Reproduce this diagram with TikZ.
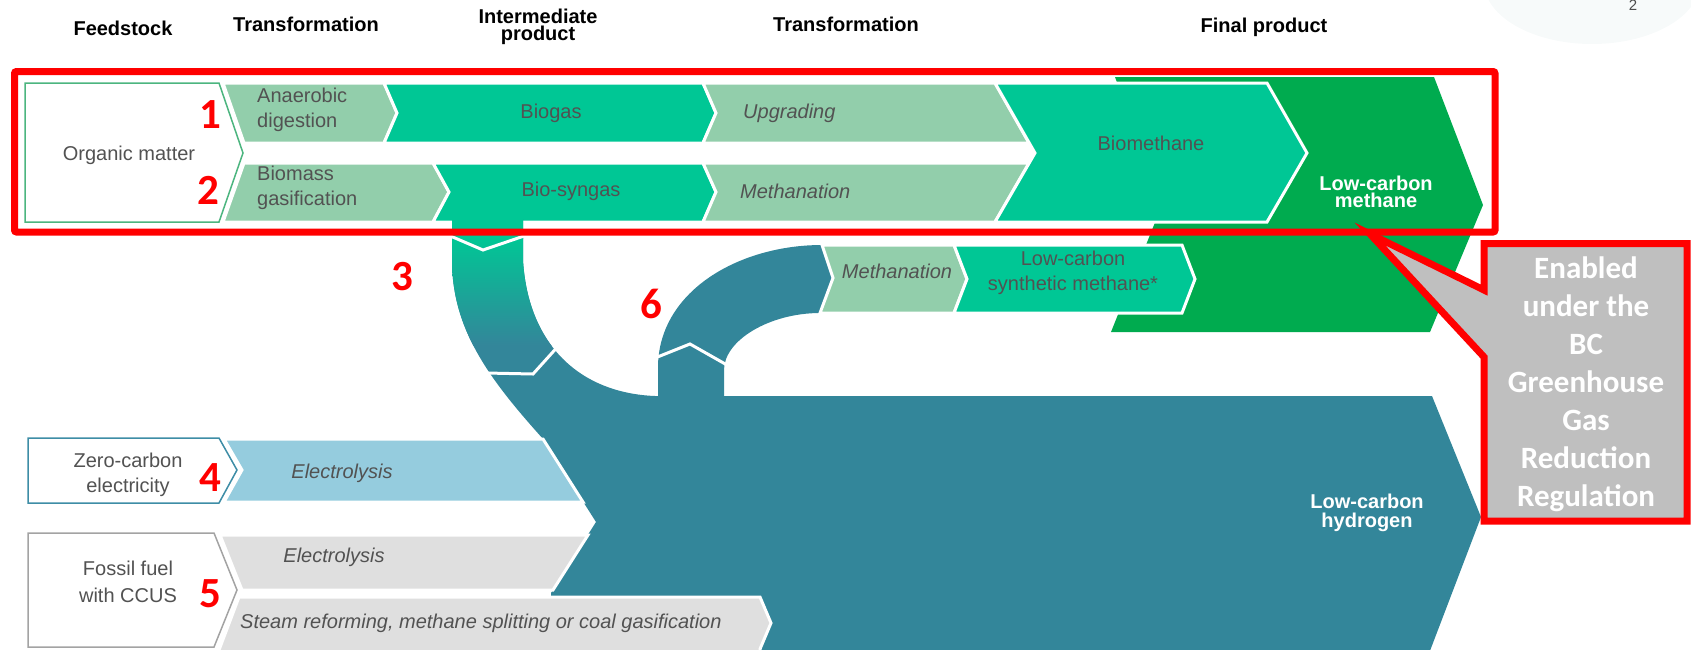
\documentclass[tikz,border=0pt]{standalone}
\usepackage{fontspec}
\setmainfont{Liberation Sans}
\newfontfamily\calib{Carlito}

\definecolor{paleGreen}{HTML}{92CEAB}
\definecolor{midGreen}{HTML}{00C795}
\definecolor{darkGreen}{HTML}{00AB4F}
\definecolor{tealBlue}{HTML}{33869A}
\definecolor{skyBlue}{HTML}{95CCDE}
\definecolor{lightGrey}{HTML}{DFDFDF}
\definecolor{calloutGrey}{HTML}{BFBFBF}
\definecolor{labelGrey}{HTML}{525252}
\definecolor{redMark}{HTML}{FF0000}
\definecolor{organicLine}{HTML}{4CB57F}
\definecolor{zeroLine}{HTML}{3E8DA6}
\definecolor{fossilLine}{HTML}{A3A3A3}
\definecolor{haze}{HTML}{F7FAFA}

% outline of the hydrogen body with its two curved branches
\def\hydrogenoutline{(452,219) -- (452,260) .. controls (452,330) and (490,380) .. (544,440)
  -- (596,522) -- (551,593) -- (551,656) -- (1428,656) -- (1481,517) -- (1432,396)
  -- (724,396) -- (724,370) .. controls (724,340) and (770,313) .. (820,313)
  -- (833,278) -- (822,245) .. controls (740,245) and (660,290) .. (658,365)
  -- (658,396) -- (655,396) .. controls (580,393) and (528,345) .. (523,260)
  -- (523,219) -- cycle}

\tikzset{
  flowbar/.style={draw=white, line width=3pt, line join=miter},
  feedbox/.style={fill=white, line width=1.5pt, line join=miter},
  lbl/.style={font=\fontsize{20}{25}\selectfont, text=labelGrey, align=center, inner sep=0pt},
  lblleft/.style={font=\fontsize{20}{25}\selectfont, text=labelGrey, align=left, inner sep=0pt},
  lblit/.style={font=\fontsize{20}{25}\selectfont\itshape, text=labelGrey, align=left, inner sep=0pt},
  head/.style={font=\fontsize{20}{15}\selectfont\bfseries, text=black, align=center, inner sep=0pt},
  prodlbl/.style={text=white, align=center, inner sep=0pt},
  num/.style={font=\calib\bfseries\fontsize{43}{43}\selectfont, text=redMark, inner sep=0pt},
  chevline/.style={draw=white, line width=3pt, line join=miter}
}

\begin{document}
\begin{tikzpicture}[x=1pt, y=-1pt]
\useasboundingbox (0,0) rectangle (1691,649);

% faint page mark in the corner
\fill[haze] (1592,-18) ellipse [x radius=108pt, y radius=62pt];
\node[font=\fontsize{15}{15}\selectfont, text=black!70, inner sep=0pt] (pagenum) at (1633,5) {2};

% column headings
\node[head] (hFeed) at (123,28) {Feedstock};
\node[head] (hTrans1) at (306,24) {Transformation};
\node[head, anchor=base] (hInter) at (538,23.5) {Intermediate};
\node[head, anchor=base, text height=12pt] (hProd) at (538,40.5) {product};
\node[head] (hTrans2) at (846,24) {Transformation};
\node[head] (hFinal) at (1264,27) {Final product};

% low-carbon methane (final product)
\fill[darkGreen] (1115,77) -- (1434,77) -- (1483,205) -- (1430,332) -- (1111,332) -- (1162,205) -- cycle;

% organic pathways
\path[flowbar, fill=paleGreen] (223,83) -- (384,83) -- (397,113) -- (384,143) -- (244,143) -- cycle;
\path[flowbar, fill=midGreen] (384,83) -- (703,83) -- (716,113) -- (703,143) -- (384,143) -- (397,113) -- cycle;
\path[flowbar, fill=paleGreen] (703,83) -- (995,83) -- (1029,143) -- (703,143) -- (716,113) -- cycle;
\path[flowbar, fill=paleGreen] (244,163) -- (433,163) -- (449,192) -- (433,222) -- (223,222) -- cycle;
\path[flowbar, fill=midGreen] (433,163) -- (703,163) -- (716,192) -- (703,222) -- (433,222) -- (449,192) -- cycle;
\path[flowbar, fill=paleGreen] (703,163) -- (1029,163) -- (995,222) -- (703,222) -- (716,192) -- cycle;
\path[flowbar, fill=midGreen] (995,83) -- (1267,83) -- (1307,153) -- (1267,222) -- (995,222) -- (1035,153) -- cycle;

% organic matter feedstock
\path[feedbox, draw=organicLine] (25,83) -- (219,83) -- (243,153) -- (219,222) -- (25,222) -- cycle;

% hydrogen body, coloured from bio-syngas green into teal along branch 3
\fill[tealBlue] \hydrogenoutline;
\begin{scope}
  \clip \hydrogenoutline;
  \shade[top color=midGreen, bottom color=tealBlue] (440,237) rectangle (600,345);
  \fill[midGreen] (440,214) rectangle (600,239);
\end{scope}
\draw[chevline] (448,235) -- (483,250) -- (527,235);
\draw[chevline] (486,373) -- (533,374) -- (561,343);
\draw[chevline] (655,358) -- (690,344) -- (727,365);

% synthetic methane branch
\path[flowbar, fill=paleGreen] (822,245) -- (954,245) -- (967,279) -- (954,313) -- (820,313) -- (833,278) -- cycle;
\path[flowbar, fill=midGreen] (954,245) -- (1182,245) -- (1195,279) -- (1182,313) -- (954,313) -- (967,279) -- cycle;

% electricity and fossil pathways
\path[flowbar, fill=skyBlue] (224,439) -- (543,439) -- (583,502) -- (224,502) -- (242,470) -- cycle;
\path[flowbar, fill=lightGrey] (220,535) -- (588,535) -- (553,590) -- (242,590) -- cycle;
\path[flowbar, fill=lightGrey] (239,597) -- (760,597) -- (771,623) -- (760,649) -- (760,658) -- (216,658) -- cycle;
\path[feedbox, draw=zeroLine] (28,438) -- (219,438) -- (237,470) -- (219,503) -- (28,503) -- cycle;
\path[feedbox, draw=fossilLine] (28,533) -- (214,533) -- (237,590) -- (214,647) -- (28,647) -- cycle;

% labels
\node[lbl] (organic) at (129,155) {Organic matter};
\node[lblleft, anchor=west] (anaer) at (257,110) {Anaerobic\\digestion};
\node[lblleft, anchor=west] (biomass) at (257,188) {Biomass\\gasification};
\node[lbl] (biogas) at (551,113) {Biogas};
\node[lbl] (syngas) at (571,191) {Bio-syngas};
\node[lblit, anchor=west] (upgr) at (743,113) {Upgrading};
\node[lblit, anchor=west] (meth1) at (740,191) {Methanation};
\node[lbl] (biometh) at (1151,143) {Biomethane};
\node[prodlbl, font=\fontsize{20}{17}\selectfont\bfseries] (lcmeth) at (1376,192) {Low-carbon\\methane};
\node[lblit] (meth2) at (897,271) {Methanation};
\node[lbl] (synmeth) at (1073,273) {Low-carbon\\synthetic methane*};
\node[lbl] (zeroel) at (128,475) {Zero-carbon\\electricity};
\node[lblit] (elec1) at (342,473) {Electrolysis};
\node[lbl, font=\fontsize{20}{27}\selectfont] (fossil) at (128,582) {Fossil fuel\\with CCUS};
\node[lblit] (elec2) at (334,557) {Electrolysis};
\node[lblit, anchor=west] (steam) at (240,623) {Steam reforming, methane splitting or coal gasification};
\node[prodlbl, font=\fontsize{20}{19}\selectfont\bfseries] (lchyd) at (1367,513) {Low-carbon\\hydrogen};

% highlight frame and regulation callout
\draw[redMark, line width=7pt, rounded corners=2pt] (14.5,71.5) rectangle (1495,232);
\path[draw=redMark, fill=calloutGrey, line width=7pt, line join=miter]
  (1484,243.5) -- (1687,243.5) -- (1687,521) -- (1484,521) -- (1484,357) -- (1370,234) -- (1484,290) -- cycle;
\node[font=\calib\bfseries\fontsize{31}{38}\selectfont, text=white, align=center, inner sep=0pt] (callout) at (1586,384)
  {Enabled\\under the\\BC\\Greenhouse\\Gas\\Reduction\\Regulation};

% pathway numbers
\node[num] (n1) at (210,115) {1};
\node[num] (n2) at (208,190) {2};
\node[num] (n3) at (402,277) {3};
\node[num] (n4) at (210,478) {4};
\node[num] (n5) at (210,594) {5};
\node[num] (n6) at (651,304) {6};
\end{tikzpicture}
\end{document}
